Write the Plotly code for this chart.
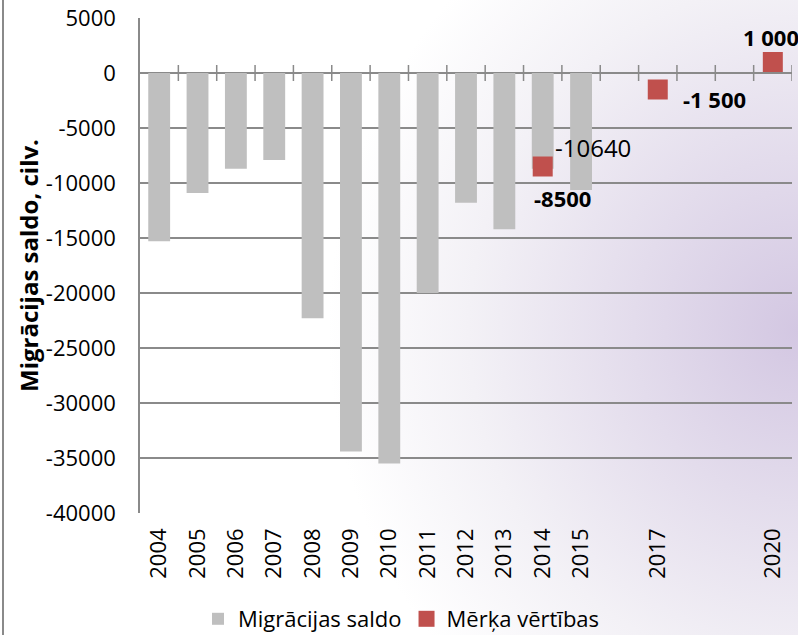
import base64
import plotly.graph_objects as go

# ---- data ----
all_years = [str(y) for y in range(2004, 2021)]
label_years = ["2004", "2005", "2006", "2007", "2008", "2009", "2010", "2011",
               "2012", "2013", "2014", "2015", "2017", "2020"]
bar_years = ["2004", "2005", "2006", "2007", "2008", "2009", "2010", "2011",
             "2012", "2013", "2014", "2015"]
bar_values = [-15300, -10900, -8700, -7900, -22300, -34400, -35500, -20000,
              -11800, -14200, -8700, -10640]
target_years = ["2014", "2017", "2020"]
target_values = [-8500, -1500, 1000]
target_labels = ["-8500", "-1 500", "1 000"]
y_ticks = [5000, 0, -5000, -10000, -15000, -20000, -25000, -30000, -35000, -40000]

W, H = 798, 635
ML, MR, MT, MB = 140, 6, 18, 122
PW, PH = W - ML - MR, H - MT - MB
YMIN, YMAX = -40000, 5000

FONT = "Open Sans"
GRID = "#8a8a8a"

fig = go.Figure()
fig.add_trace(go.Bar(
    x=bar_years, y=bar_values, name="Migrācijas saldo",
    marker=dict(color="#bfbfbf", line=dict(width=0)),
    hoverinfo="skip",
))
fig.add_trace(go.Scatter(
    x=target_years, y=target_values, name="Mērķa vērtības", mode="markers",
    marker=dict(symbol="square", size=20, color="#c0504d", line=dict(width=0)),
    hoverinfo="skip",
))

# background gradient
CX, CY = W, 330
svg = f'''<svg xmlns="http://www.w3.org/2000/svg" width="{W}" height="{H}">
<defs><radialGradient id="g" cx="{CX}" cy="{CY}" r="470" gradientUnits="userSpaceOnUse"
 gradientTransform="translate({CX} {CY}) scale(1 1.05) translate({-CX} {-CY})">
<stop offset="0" stop-color="#d3c7e2"/>
<stop offset="0.35" stop-color="#e3dcec"/>
<stop offset="0.7" stop-color="#f3f1f6"/>
<stop offset="1" stop-color="#ffffff"/>
</radialGradient></defs>
<rect width="{W}" height="{H}" fill="url(#g)"/></svg>'''
src = "data:image/svg+xml;base64," + base64.b64encode(svg.encode()).decode()

px_x = lambda p: (p - ML) / PW
px_y = lambda p: (H - MB - p) / PH

fig.add_layout_image(dict(
    source=src, xref="paper", yref="paper",
    x=px_x(0), y=px_y(0), sizex=W / PW, sizey=H / PH,
    xanchor="left", yanchor="top", sizing="stretch", layer="below",
))

cat_idx = {y: i for i, y in enumerate(all_years)}

# tick marks crossing zero line at category boundaries
tick_half = (YMAX - YMIN) / PH * 8
shapes = []
for i in range(1, len(all_years) + 1):
    shapes.append(dict(type="line", xref="x", yref="y", x0=i - 0.5, x1=i - 0.5,
                       y0=-tick_half, y1=tick_half, line=dict(color=GRID, width=1.5)))
# outer left border
shapes.append(dict(type="line", xref="paper", yref="paper", x0=px_x(3), x1=px_x(3),
                   y0=px_y(0), y1=px_y(H), line=dict(color="#8a8a8a", width=2)))

annotations = []
# bar data label (2015)
annotations.append(dict(x=cat_idx[bar_years[-1]], y=bar_values[-1], text=str(bar_values[-1]),
                        showarrow=False, xanchor="center", yanchor="middle",
                        xshift=12, yshift=43,
                        font=dict(family=FONT, size=24, color="#000")))
shifts = [(20, -31), (57, -9), (-2, 25)]
for xv, yv, t, (dx, dy) in zip(target_years, target_values, target_labels, shifts):
    annotations.append(dict(x=cat_idx[xv], y=yv, text=f"<b>{t}</b>", showarrow=False,
                            xanchor="center", yanchor="middle", xshift=dx, yshift=dy,
                            font=dict(family=FONT, size=22, color="#000")))

fig.update_layout(
    width=W, height=H,
    margin=dict(l=ML, r=MR, t=MT, b=MB, pad=0, autoexpand=False),
    paper_bgcolor="white", plot_bgcolor="rgba(0,0,0,0)",
    font=dict(family=FONT, size=20, color="#000"),
    bargap=0.43,
    showlegend=True,
    legend=dict(orientation="h", x=px_x(198), xanchor="left", y=px_y(598), yanchor="top",
                font=dict(family=FONT, size=22), bgcolor="rgba(0,0,0,0)",
                itemwidth=30, tracegroupgap=0),
    shapes=shapes,
    annotations=annotations,
)
fig.update_xaxes(
    type="category", categoryorder="array", categoryarray=all_years,
    range=[-0.5, len(all_years) - 0.5],
    tickmode="array", tickvals=label_years, ticktext=label_years,
    tickangle=-90, ticks="", showgrid=False, showline=False, zeroline=False,
    automargin=False,
    ticklabelstandoff=10, tickfont=dict(family=FONT, size=22),
)
fig.update_yaxes(
    range=[YMIN, YMAX], tickmode="array", tickvals=y_ticks,
    ticktext=[str(v) for v in y_ticks],
    showgrid=True, gridcolor=GRID, gridwidth=1.5,
    zeroline=True, zerolinecolor=GRID, zerolinewidth=1.5,
    showline=True, linecolor=GRID, linewidth=1.5, mirror=False,
    automargin=False,
    ticks="", ticklabelstandoff=18, tickfont=dict(family=FONT, size=22),
    title=dict(text="<b>Migrācijas saldo, cilv.</b>", standoff=0,
               font=dict(family=FONT, size=24)),
)

fig.write_html("out.html", config={"displayModeBar": False},
               post_script="document.body.style.margin='0';document.body.style.padding='0';")
